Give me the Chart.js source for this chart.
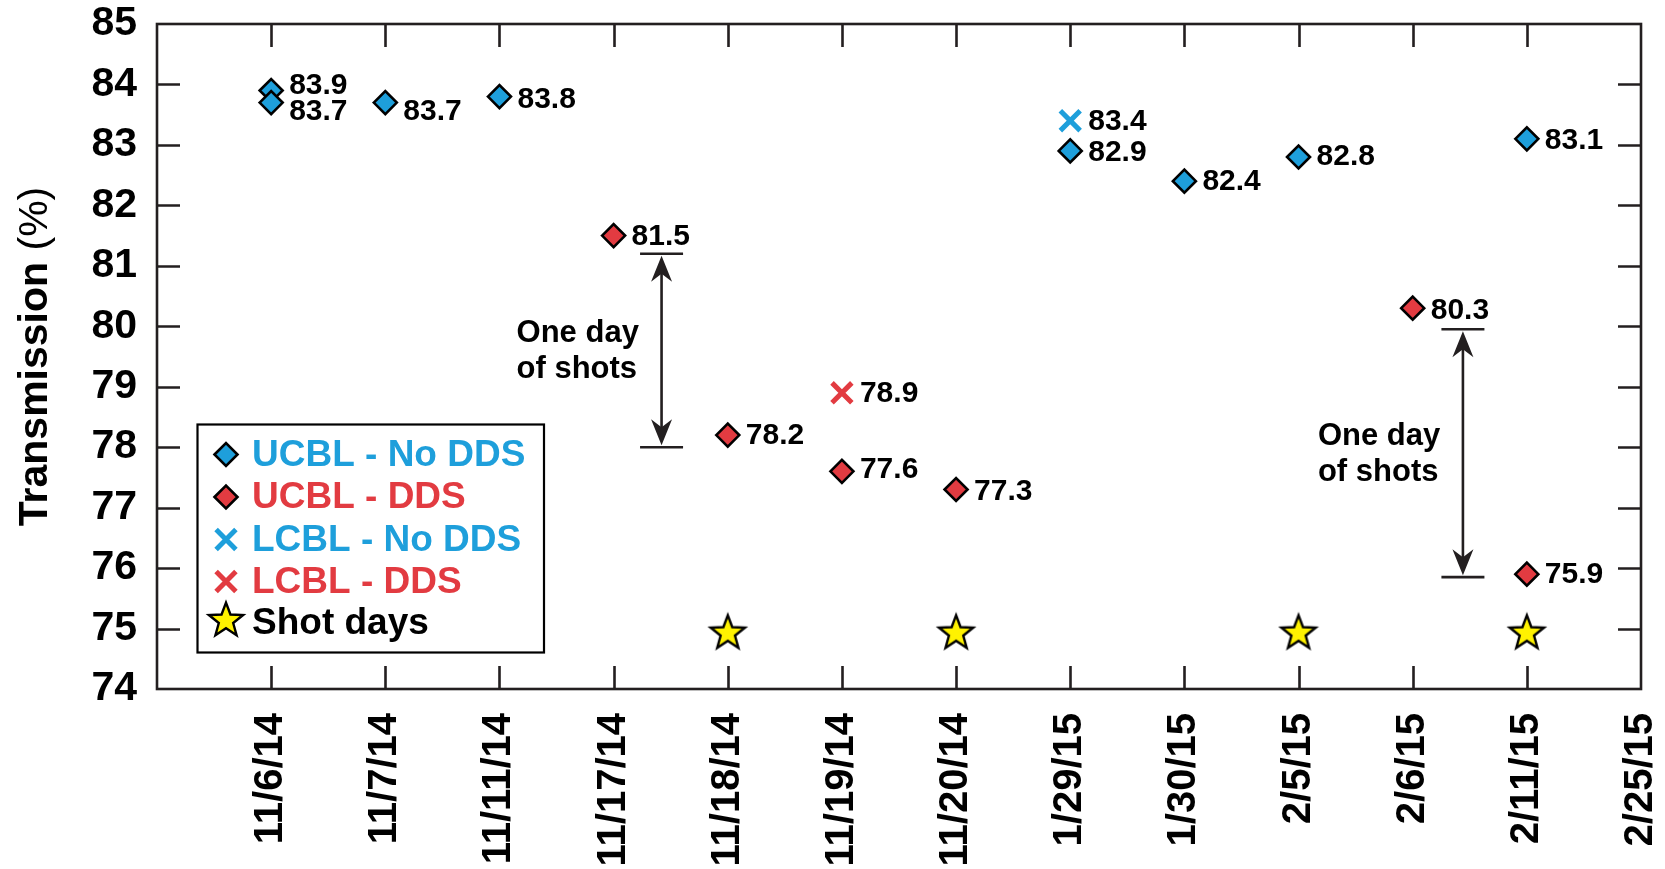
<!DOCTYPE html>
<html><head><meta charset="utf-8">
<script src="https://cdn.jsdelivr.net/npm/chart.js@4.4.1/dist/chart.umd.min.js"></script>
<style>html,body{margin:0;padding:0;background:#fff;overflow:hidden}</style>
</head><body>
<canvas id="c" width="1665" height="869" style="display:block;width:1665px;height:869px"></canvas>
<script>
// ---- data ----
const categories = ['11/6/14','11/7/14','11/11/14','11/17/14','11/18/14','11/19/14','11/20/14','1/29/15','1/30/15','2/5/15','2/6/15','2/11/15','2/25/15'];
const yTickValues = [74,75,76,77,78,79,80,81,82,83,84,85];

const ucblNoDdsDates  = ['11/6/14','11/6/14','11/7/14','11/11/14','1/29/15','1/30/15','2/5/15','2/11/15'];
const ucblNoDdsValues = [83.9, 83.7, 83.7, 83.8, 82.9, 82.4, 82.8, 83.1];

const ucblDdsDates  = ['11/17/14','11/18/14','11/19/14','11/20/14','2/6/15','2/11/15'];
const ucblDdsValues = [81.5, 78.2, 77.6, 77.3, 80.3, 75.9];

const lcblNoDdsDates  = ['1/29/15'];
const lcblNoDdsValues = [83.4];

const lcblDdsDates  = ['11/19/14'];
const lcblDdsValues = [78.9];

const shotDayDates  = ['11/18/14','11/20/14','2/5/15','2/11/15'];
const shotDayValues = [74.95, 74.95, 74.95, 74.95];

// "One day of shots" brackets: position between categories, top / bottom values
const bracketX      = [3.42, 10.44];
const bracketTop    = [81.2, 79.95];
const bracketBottom = [78.0, 75.85];
const bracketText   = ['One day', 'of shots'];

// ---- styling / label nudges (not data) ----
const labelDy = {
  0: [-5, 9, 9, 3, 2, 1, 0, 2],
  1: [1, 1, -2, 2, 3, 1],
  2: [1],
  3: [1]
};
const BLUE = '#1e9fdb', RED = '#e23b41', INK = '#231f20', YELLOW = '#fff200';
const FONT = '"Liberation Sans", Arial, Helvetica, sans-serif';

function pts(dates, values) {
  return dates.map((d, i) => ({x: categories.indexOf(d), y: values[i]}));
}

// star marker image
function makeStar(R) {
  const s = Math.ceil(R * 2 + 6);
  const c = document.createElement('canvas');
  c.width = s; c.height = s;
  const g = c.getContext('2d');
  const cx = s / 2, cy = s / 2 + R * 0.09, r = R * 0.42;
  g.beginPath();
  for (let i = 0; i < 10; i++) {
    const rad = (i % 2 === 0) ? R : r;
    const a = -Math.PI / 2 + i * Math.PI / 5;
    const x = cx + rad * Math.cos(a), y = cy + rad * Math.sin(a);
    if (i === 0) g.moveTo(x, y); else g.lineTo(x, y);
  }
  g.closePath();
  g.fillStyle = YELLOW; g.fill();
  g.lineWidth = 2.4; g.lineJoin = 'miter'; g.strokeStyle = '#000'; g.stroke();
  return c;
}
const starImg = makeStar(18);

const datasets = [
  {label: 'UCBL - No DDS', data: pts(ucblNoDdsDates, ucblNoDdsValues), pointStyle: 'rectRot', pointRadius: 11.5,
   backgroundColor: BLUE, borderColor: '#000', borderWidth: 2.6, color: BLUE},
  {label: 'UCBL - DDS', data: pts(ucblDdsDates, ucblDdsValues), pointStyle: 'rectRot', pointRadius: 11.5,
   backgroundColor: RED, borderColor: '#000', borderWidth: 2.6, color: RED},
  {label: 'LCBL - No DDS', data: pts(lcblNoDdsDates, lcblNoDdsValues), pointStyle: 'crossRot', pointRadius: 14,
   backgroundColor: BLUE, borderColor: BLUE, borderWidth: 5, color: BLUE},
  {label: 'LCBL - DDS', data: pts(lcblDdsDates, lcblDdsValues), pointStyle: 'crossRot', pointRadius: 14,
   backgroundColor: RED, borderColor: RED, borderWidth: 5, color: RED},
  {label: 'Shot days', data: pts(shotDayDates, shotDayValues), pointStyle: starImg, pointRadius: 18,
   backgroundColor: YELLOW, borderColor: '#000', borderWidth: 2, color: '#000'}
];

const decorPlugin = {
  id: 'decor',
  beforeDatasetsDraw(chart) {
    const {ctx, chartArea: a, scales: {x, y}} = chart;
    ctx.save();
    ctx.strokeStyle = INK; ctx.lineWidth = 2.6; ctx.lineCap = 'butt';
    const TL = 23;
    ctx.beginPath();
    x.ticks.forEach(t => {
      const px = Math.round(x.getPixelForValue(t.value)) + 0.5;
      if (t.value <= x.min || t.value >= x.max) return;
      ctx.moveTo(px, a.bottom); ctx.lineTo(px, a.bottom - TL);
      ctx.moveTo(px, a.top); ctx.lineTo(px, a.top + TL);
    });
    y.ticks.forEach(t => {
      const py = Math.round(y.getPixelForValue(t.value)) + 0.5;
      if (t.value <= y.min || t.value >= y.max) return;
      ctx.moveTo(a.left, py); ctx.lineTo(a.left + TL, py);
      ctx.moveTo(a.right, py); ctx.lineTo(a.right - TL, py);
    });
    ctx.stroke();
    ctx.strokeRect(a.left, a.top, a.right - a.left, a.bottom - a.top);

    // y-axis title, mixed weight
    ctx.fillStyle = '#000';
    ctx.translate(36, (a.top + a.bottom) / 2);
    ctx.rotate(-Math.PI / 2);
    ctx.textBaseline = 'middle';
    const f1 = 'bold 41px ' + FONT, f2 = '41px ' + FONT;
    ctx.font = f1; const w1 = ctx.measureText('Transmission').width;
    ctx.font = f2; const w2 = ctx.measureText(' (%)').width;
    const s = -(w1 + w2) / 2;
    ctx.font = f1; ctx.textAlign = 'left'; ctx.fillText('Transmission', s, 0);
    ctx.font = f2; ctx.fillText(' (%)', s + w1, 0);
    ctx.restore();
  },
  afterDatasetsDraw(chart) {
    const {ctx, scales: {x, y}} = chart;
    ctx.save();
    // value labels
    ctx.font = 'bold 30px ' + FONT;
    ctx.fillStyle = '#000'; ctx.textAlign = 'left'; ctx.textBaseline = 'middle';
    [0, 1, 2, 3].forEach(di => {
      const meta = chart.getDatasetMeta(di);
      meta.data.forEach((el, i) => {
        const v = chart.data.datasets[di].data[i].y;
        ctx.fillText(v.toFixed(1), el.x + 18, el.y + (labelDy[di][i] || 0));
      });
    });

    // brackets with double arrows
    ctx.strokeStyle = INK; ctx.fillStyle = INK; ctx.lineWidth = 2.6;
    bracketX.forEach((bx, i) => {
      const px = x.getPixelForValue(bx);
      const yt = y.getPixelForValue(bracketTop[i]);
      const yb = y.getPixelForValue(bracketBottom[i]);
      ctx.beginPath();
      ctx.moveTo(px - 21.5, yt); ctx.lineTo(px + 21.5, yt);
      ctx.moveTo(px - 21.5, yb); ctx.lineTo(px + 21.5, yb);
      ctx.moveTo(px, yt + 15); ctx.lineTo(px, yb - 15);
      ctx.stroke();
      const head = (tipY, dir) => {
        ctx.beginPath();
        ctx.moveTo(px, tipY);
        ctx.lineTo(px - 10.5, tipY + dir * 26);
        ctx.lineTo(px, tipY + dir * 18);
        ctx.lineTo(px + 10.5, tipY + dir * 26);
        ctx.closePath(); ctx.fill();
      };
      head(yt + 2, 1);
      head(yb - 2, -1);
      const mid = (yt + yb) / 2;
      ctx.font = 'bold 31px ' + FONT; ctx.textAlign = 'left'; ctx.textBaseline = 'middle';
      ctx.fillStyle = '#000';
      ctx.fillText(bracketText[0], px - 145, mid - 17);
      ctx.fillText(bracketText[1], px - 145, mid + 19);
      ctx.fillStyle = INK;
    });

    // legend box
    const L = 197.5, T = 424.5, W = 346.5, H = 228;
    ctx.fillStyle = '#fff'; ctx.fillRect(L, T, W, H);
    ctx.strokeStyle = '#000'; ctx.lineWidth = 2.2; ctx.strokeRect(L, T, W, H);
    const rows = [454.5, 497, 539.5, 581.5, 623];
    chart.data.datasets.forEach((ds, i) => {
      const mx = 226, my = rows[i];
      ctx.save();
      if (ds.pointStyle === 'rectRot') {
        const r = ds.pointRadius;
        ctx.beginPath();
        ctx.moveTo(mx - r, my); ctx.lineTo(mx, my - r); ctx.lineTo(mx + r, my); ctx.lineTo(mx, my + r); ctx.closePath();
        ctx.fillStyle = ds.backgroundColor; ctx.fill();
        ctx.lineWidth = ds.borderWidth; ctx.strokeStyle = ds.borderColor; ctx.stroke();
      } else if (ds.pointStyle === 'crossRot') {
        const r = ds.pointRadius * Math.SQRT1_2;
        ctx.beginPath();
        ctx.moveTo(mx - r, my - r); ctx.lineTo(mx + r, my + r);
        ctx.moveTo(mx + r, my - r); ctx.lineTo(mx - r, my + r);
        ctx.lineWidth = ds.borderWidth; ctx.strokeStyle = ds.borderColor; ctx.stroke();
      } else {
        ctx.drawImage(starImg, mx - starImg.width / 2, my - 4 - starImg.height / 2);
      }
      ctx.restore();
      ctx.font = 'bold 37px ' + FONT; ctx.fillStyle = ds.color;
      ctx.textAlign = 'left'; ctx.textBaseline = 'middle';
      ctx.fillText(ds.label, 252, my + 1);
    });
    ctx.restore();
  }
};

new Chart(document.getElementById('c'), {
  type: 'scatter',
  data: {datasets},
  plugins: [decorPlugin],
  options: {
    responsive: false,
    animation: false,
    devicePixelRatio: 1,
    layout: {padding: {top: 24, right: 24, left: 0, bottom: 0}},
    plugins: {legend: {display: false}, tooltip: {enabled: false}, title: {display: false}},
    scales: {
      x: {
        type: 'linear', min: -1, max: 12,
        grid: {display: false, drawTicks: false},
        border: {display: false},
        afterBuildTicks: s => { s.ticks = categories.map((c, i) => ({value: i})); },
        afterFit: s => { s.height = 180; s.paddingLeft = 0; s.paddingRight = 0; },
        ticks: {
          autoSkip: false, minRotation: 90, maxRotation: 90, padding: 24,
          color: '#000', font: {family: FONT, size: 40, weight: 'bold'},
          callback: v => categories[v] !== undefined ? categories[v] : ''
        }
      },
      y: {
        type: 'linear', min: 74, max: 85,
        grid: {display: false, drawTicks: false},
        border: {display: false},
        afterBuildTicks: s => { s.ticks = yTickValues.map(v => ({value: v})); },
        afterFit: s => { s.width = 157; s.paddingTop = 0; s.paddingBottom = 0; },
        ticks: {padding: 20, color: '#000', font: {family: FONT, size: 41, weight: 'bold'}}
      }
    }
  }
});
</script>
</body></html>
